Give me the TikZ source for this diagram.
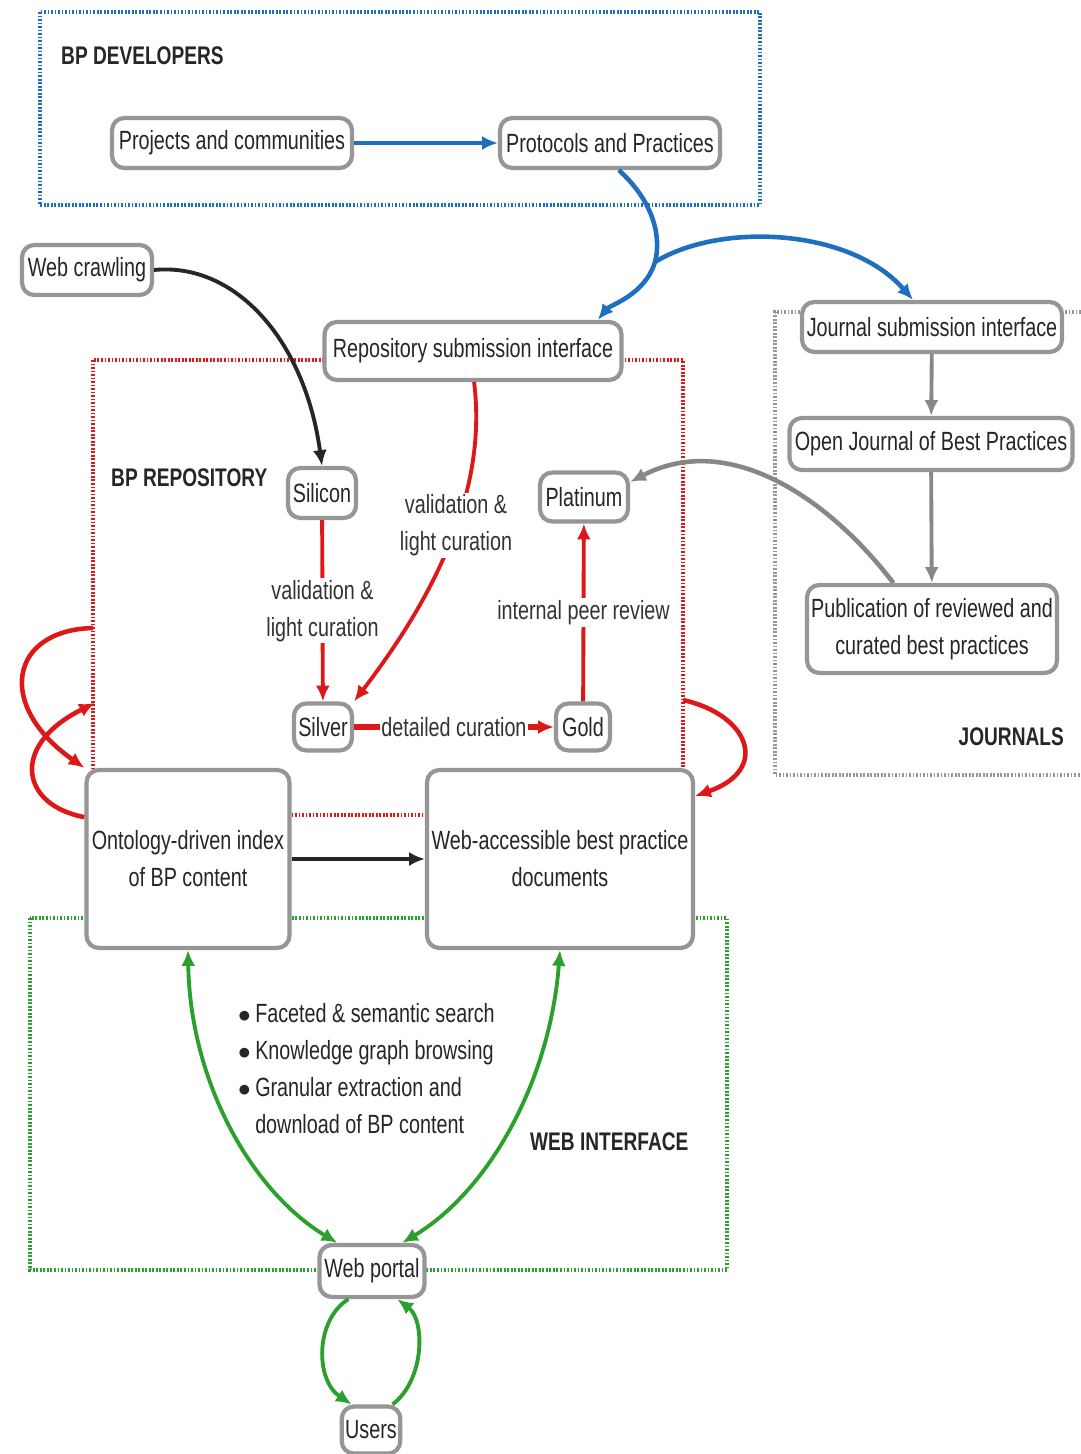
\documentclass[tikz,border=0pt]{standalone}
\usepackage{fontspec}
\setmainfont[FakeStretch=0.75]{Liberation Sans}
\usetikzlibrary{arrows.meta}

\definecolor{bpblue}{RGB}{30,112,190}
\definecolor{bpred}{RGB}{222,24,24}
\definecolor{bpgreen}{RGB}{44,160,44}
\definecolor{bpgray}{RGB}{150,150,150}

\newcommand{\bigdot}{$\bullet$\,}

\tikzset{
    box/.style={draw=bpgray, line width=2.4pt, rounded corners=7pt, fill=white,
        text=black!85, inner sep=2pt, align=center},
    lbl/.style={fill=white, text=black!80, inner sep=1pt, align=center},
    frame/.style={dash pattern=on 1pt off 1pt, line width=2pt},
    grouplbl/.style={font=\fontsize{14.5}{21}\selectfont\bfseries, text=black!85},
    flow/.style={line width=2.2pt, ->},
}

\begin{document}
\begin{tikzpicture}[x=0.02cm, y=-0.02cm, >={Latex[length=9pt,width=8pt]},
    every node/.style={font=\fontsize{15}{21}\selectfont}]
    \useasboundingbox (0,0) rectangle (1081,1454);

    % Frames of the four groups
    \draw[frame, bpblue] (40,12) rectangle (760,205);
    \draw[frame, bpred] (93,360) rectangle (683,815);
    \draw[frame, bpgray] (1081,312) -- (775,312) -- (775,775) -- (1081,775);
    \draw[frame, bpgreen] (30,918) rectangle (727,1270);

    \node[anchor=west, grouplbl] (devlbl) at (55,56) {BP DEVELOPERS};
    \node[anchor=west, grouplbl] (repolbl) at (105,478) {BP REPOSITORY};
    \node[anchor=east, grouplbl] (jourlbl) at (1070,737) {JOURNALS};
    \node[anchor=west, grouplbl] (weblbl) at (524,1142) {WEB INTERFACE};

    % Nodes
    \node[box, minimum width=4.8cm, minimum height=1cm] (proj) at (232,143) {Projects and communities};
    \node[box, minimum width=4.4cm, minimum height=1cm] (prot) at (610,143) {Protocols and Practices};
    \node[box, minimum width=2.6cm, minimum height=1cm] (crawl) at (87,270) {Web crawling};
    \node[box, minimum width=5.94cm, minimum height=1.16cm] (repo) at (473,351) {Repository submission interface};

    \node[box, minimum width=1.36cm, minimum height=1cm] (silicon) at (322,493) {Silicon};
    \node[box, minimum width=1.76cm, minimum height=0.98cm] (platinum) at (584,497) {Platinum};
    \node[box, minimum width=1.16cm, minimum height=0.94cm] (silver) at (323,727) {Silver};
    \node[box, minimum width=1.08cm, minimum height=0.94cm] (gold) at (583,727) {Gold};

    \node[box, minimum width=5.2cm, minimum height=1cm] (jsub) at (932,327) {Journal submission interface};
    \node[box, minimum width=5.66cm, minimum height=1.04cm] (ojbp) at (931,444) {Open Journal of Best Practices};
    \node[box, minimum width=5cm, minimum height=1.76cm] (pub) at (932,629) {Publication of reviewed and\\curated best practices};

    \node[box, minimum width=4.06cm, minimum height=3.56cm] (onto) at (188,859) {Ontology-driven index\\of BP content};
    \node[box, minimum width=5.32cm, minimum height=3.56cm] (webdoc) at (560,859) {Web-accessible best practice\\documents};

    \node[box, minimum width=2.1cm, minimum height=1.04cm] (portal) at (372,1271) {Web portal};
    \node[box, minimum width=1.16cm, minimum height=0.94cm] (users) at (371,1430) {Users};

    \node[anchor=north west, align=left, text=black!85] (feat) at (232,997)
        {\bigdot Faceted \& semantic search\\
         \bigdot Knowledge graph browsing\\
         \bigdot Granular extraction and\\
         \phantom{\bigdot}download of BP content};

    % Blue connectors
    \coordinate (split) at (655,262);
    \draw[flow, bpblue, line width=2.8pt] (proj) -- (prot);
    \draw[flow, bpblue, line width=2.6pt] (prot.-72) .. controls (652,200) and (662,235) .. (split)
        .. controls (645,295) and (610,305) .. (repo.14.5);
    \draw[flow, bpblue, line width=2.6pt] (split) .. controls (720,222) and (850,228) .. (jsub.125);

    % Black connectors
    \draw[flow, black!85] (crawl.east) .. controls (235,262) and (305,340) .. (silicon.north);
    \draw[flow, black!85] (onto) -- (webdoc);

    % Red connectors inside the repository
    \draw[flow, bpred] (silicon) -- node[lbl]{validation \&\\light curation} (silver);
    \draw[flow, bpred] (repo.-88) .. controls (485,470) and (455,570) ..
        node[lbl, pos=0.5]{validation \&\\light curation} (silver.north east);
    \draw[flow, bpred, line width=3.2pt] (silver) -- node[lbl]{detailed curation} (gold);
    \draw[flow, bpred] (gold) -- node[lbl]{internal peer review} (platinum);

    % Red loops round the repository
    \coordinate (loopa) at (93,628);
    \coordinate (loopb) at (95,703);
    \coordinate (loopc) at (683,700);
    \draw[flow, bpred, line width=2.6pt] (loopa) .. controls (10,630) and (-5,705) .. (onto.north west);
    \draw[flow, bpred, line width=2.6pt] (onto.158) .. controls (20,805) and (10,745) .. (loopb);
    \draw[flow, bpred, line width=2.6pt] (loopc) .. controls (750,715) and (770,770) .. (webdoc.25);

    % Gray connectors of the journals
    \draw[flow, bpgray!90!black] (jsub) -- (ojbp);
    \draw[flow, bpgray!90!black] (ojbp) -- (pub);
    \draw[flow, bpgray!90!black, line width=2.6pt] (pub.130) .. controls (830,500) and (730,430) .. (platinum.18);

    % Green connectors of the web interface
    \draw[flow, <->, bpgreen] (onto.south) .. controls (190,1080) and (250,1190) .. (portal.141);
    \draw[flow, <->, bpgreen] (webdoc.south) .. controls (550,1080) and (490,1190) .. (portal.43);
    \draw[flow, bpgreen] (portal.230) .. controls (315,1320) and (315,1380) .. (users.127);
    \draw[flow, bpgreen] (users.50) .. controls (425,1380) and (425,1320) .. (portal.-48);

\end{tikzpicture}
\end{document}
